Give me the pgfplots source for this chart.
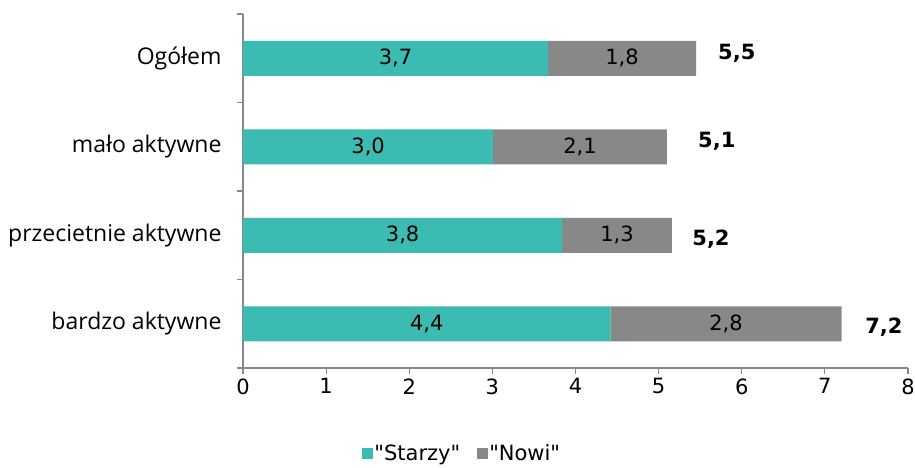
\documentclass[border=0pt]{standalone}
\usepackage{pgfplots}
\pgfplotsset{compat=1.18}
\usepackage{fontspec}
\setmainfont{DejaVu Sans}[Ligatures=TeXOff]
\newfontfamily\catfont{Open Sans}
\definecolor{teal1}{HTML}{3CBBB2}
\definecolor{gray1}{HTML}{888888}
\definecolor{axgray}{HTML}{898989}
\newcommand{\fs}{\fontsize{21bp}{24bp}\selectfont}
\begin{document}
\begin{tikzpicture}
\begin{axis}[
  at={(0,0)}, anchor=south west,
  scale only axis, width=665bp, height=354bp,
  xbar stacked, bar width=35bp,
  xmin=0, xmax=8, ymin=-0.5, ymax=3.5,
  xtick={0,...,8}, ytick={0,1,2,3},
  yticklabels={bardzo aktywne, przecietnie aktywne, mało aktywne, Ogółem},
  minor ytick={-0.5,0.5,1.5,2.5,3.5},
  axis lines*=left,
  axis line style={axgray, line width=1.2bp},
  tick style={axgray, line width=1.2bp},
  major y tick style={draw=none},
  tick align=outside,
  major tick length=6bp, minor tick length=6bp,
  xticklabel style={font=\fs, yshift=-1bp},
  yticklabel style={font=\catfont\fontsize{23bp}{26bp}\selectfont, xshift=-12bp},
  /pgf/number format/assume math mode=true,
  point meta=explicit,
  nodes near coords={\pgfmathprintnumber[fixed, fixed zerofill, precision=1, use comma]{\pgfplotspointmeta}},
  every node near coord/.append style={anchor=center, font=\fs, text=black},
  legend style={at={(0.329,-0.242)}, anchor=center, legend columns=2, draw=none, inner sep=0pt,
     nodes={inner sep=1bp},
     font=\fs, /tikz/every even column/.append style={column sep=16bp}},
  legend image code/.code={\fill[#1,draw=none] (0bp,-5.5bp) rectangle (11bp,5.5bp);},
]
\addplot[fill=teal1, draw=none] coordinates {(4.42,0) [4.4] (3.84,1) [3.8] (3.01,2) [3.0] (3.67,3) [3.7]};
\addplot[fill=gray1, draw=none] coordinates {(2.78,0) [2.8] (1.32,1) [1.3] (2.09,2) [2.1] (1.78,3) [1.8]};
\legend{"Starzy","Nowi"}
\node[font=\bfseries\fs] at (axis cs:5.94,3.06) {5,5};
\node[font=\bfseries\fs] at (axis cs:5.70,2.06) {5,1};
\node[font=\bfseries\fs] at (axis cs:5.63,0.95) {5,2};
\node[font=\bfseries\fs] at (axis cs:7.71,-0.04) {7,2};
\end{axis}
\pgfresetboundingbox
\useasboundingbox (-243bp,-100bp) rectangle (672bp,368bp);
\end{tikzpicture}
\end{document}
